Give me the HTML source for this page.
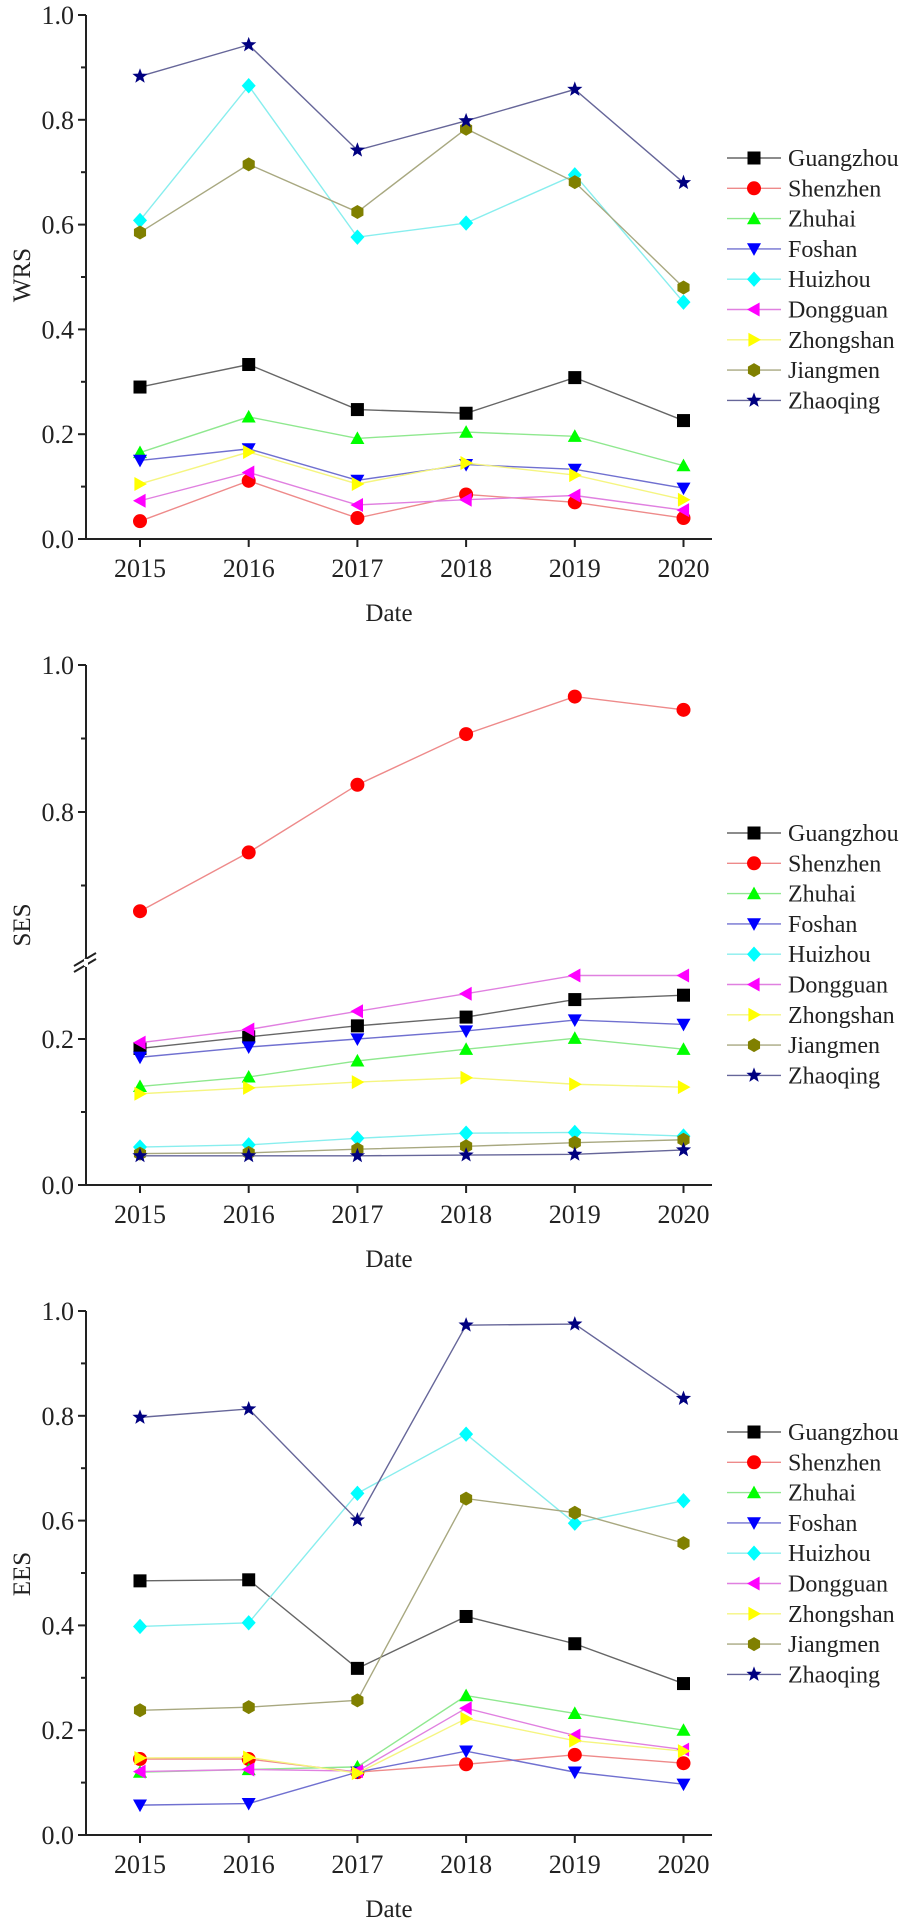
<!DOCTYPE html>
<html><head><meta charset="utf-8"><style>
html,body{margin:0;padding:0;background:#fff}
svg{display:block}
text{font-family:"Liberation Serif",serif;fill:#222}
</style></head><body>
<svg id="c" width="905" height="1922" viewBox="0 0 905 1922" xmlns="http://www.w3.org/2000/svg"></svg>
<script>
const years = ["2015","2016","2017","2018","2019","2020"];
const cities = ["Guangzhou","Shenzhen","Zhuhai","Foshan","Huizhou","Dongguan","Zhongshan","Jiangmen","Zhaoqing"];
const wrsGuangzhou=[0.290,0.333,0.247,0.240,0.308,0.226];
const wrsShenzhen=[0.034,0.111,0.040,0.085,0.070,0.040];
const wrsZhuhai=[0.165,0.233,0.192,0.204,0.196,0.140];
const wrsFoshan=[0.150,0.172,0.112,0.142,0.133,0.097];
const wrsHuizhou=[0.608,0.865,0.576,0.603,0.695,0.452];
const wrsDongguan=[0.073,0.127,0.065,0.075,0.083,0.055];
const wrsZhongshan=[0.105,0.166,0.105,0.145,0.122,0.075];
const wrsJiangmen=[0.585,0.715,0.624,0.783,0.681,0.480];
const wrsZhaoqing=[0.883,0.943,0.742,0.798,0.858,0.680];
const sesGuangzhou=[0.187,0.203,0.218,0.230,0.254,0.260];
const sesShenzhen=[0.665,0.745,0.837,0.906,0.957,0.939];
const sesZhuhai=[0.135,0.148,0.170,0.186,0.201,0.186];
const sesFoshan=[0.175,0.189,0.200,0.211,0.226,0.220];
const sesHuizhou=[0.052,0.055,0.064,0.071,0.072,0.067];
const sesDongguan=[0.195,0.213,0.238,0.262,0.287,0.287];
const sesZhongshan=[0.125,0.133,0.141,0.147,0.138,0.134];
const sesJiangmen=[0.043,0.044,0.049,0.053,0.058,0.062];
const sesZhaoqing=[0.040,0.040,0.040,0.041,0.042,0.048];
const eesGuangzhou=[0.485,0.487,0.318,0.417,0.365,0.289];
const eesShenzhen=[0.145,0.145,0.120,0.135,0.153,0.137];
const eesZhuhai=[0.120,0.125,0.130,0.266,0.232,0.200];
const eesFoshan=[0.057,0.060,0.120,0.160,0.120,0.097];
const eesHuizhou=[0.398,0.405,0.652,0.765,0.595,0.638];
const eesDongguan=[0.121,0.125,0.122,0.242,0.190,0.163];
const eesZhongshan=[0.147,0.148,0.118,0.222,0.180,0.160];
const eesJiangmen=[0.238,0.244,0.257,0.642,0.615,0.557];
const eesZhaoqing=[0.797,0.813,0.601,0.973,0.975,0.833];
const yTicks13=["0.0","0.2","0.4","0.6","0.8","1.0"];
const yTicksUpper=["0.8","1.0"];
const yTicksLower=["0.0","0.2"];

const wrs=[wrsGuangzhou,wrsShenzhen,wrsZhuhai,wrsFoshan,wrsHuizhou,wrsDongguan,wrsZhongshan,wrsJiangmen,wrsZhaoqing];
const ses=[sesGuangzhou,sesShenzhen,sesZhuhai,sesFoshan,sesHuizhou,sesDongguan,sesZhongshan,sesJiangmen,sesZhaoqing];
const ees=[eesGuangzhou,eesShenzhen,eesZhuhai,eesFoshan,eesHuizhou,eesDongguan,eesZhongshan,eesJiangmen,eesZhaoqing];

const mcol=["#000","#f00","#0f0","#00f","#0ff","#f0f","#ff0","#808000","#000080"];
const lcol=["#666","#ee8a8a","#8fe88f","#7070d0","#8ee","#e080e0","#f5f580","#a8a880","#666699"];
const shapes=["square","circle","up","down","diamond","left","right","hex","star"];
const svg=document.getElementById('c');
const NS="http://www.w3.org/2000/svg";
function mk(tag,attrs,parent){const e=document.createElementNS(NS,tag);for(const k in attrs)e.setAttribute(k,attrs[k]);(parent||svg).appendChild(e);return e;}
const X0=140, XS=108.7, AX=86, AXR=712;
function xPos(i){return X0+i*XS;}

function marker(shape,cx,cy,col,g,r){
  r=r||7;let pts;
  if(shape==="square")return mk('rect',{x:cx-r+0.5,y:cy-r+0.5,width:2*r-1,height:2*r-1,fill:col},g);
  if(shape==="circle")return mk('circle',{cx:cx,cy:cy,r:r,fill:col},g);
  if(shape==="up")pts=[[0,-r],[r,r*0.8],[-r,r*0.8]];
  if(shape==="down")pts=[[0,r],[r,-r*0.8],[-r,-r*0.8]];
  if(shape==="left")pts=[[-r,0],[r*0.8,-r],[r*0.8,r]];
  if(shape==="right")pts=[[r,0],[-r*0.8,-r],[-r*0.8,r]];
  if(shape==="diamond")pts=[[0,-r*1.1],[r,0],[0,r*1.1],[-r,0]];
  if(shape==="hex"){pts=[];for(let k=0;k<6;k++){const a=Math.PI/6+k*Math.PI/3;pts.push([r*Math.cos(a),r*Math.sin(a)]);}}
  if(shape==="star"){pts=[];for(let k=0;k<10;k++){const a=-Math.PI/2+k*Math.PI/5;const rr=k%2?r*0.42:r;pts.push([rr*Math.cos(a),rr*Math.sin(a)]);}}
  return mk('polygon',{points:pts.map(p=>(cx+p[0])+','+(cy+p[1])).join(' '),fill:col},g);
}

function label(txt,x,y,anchor,g,extra,fs){const t=mk('text',Object.assign({x:x,y:y,'font-size':fs||24,'text-anchor':anchor},extra||{}),g);t.textContent=txt;return t;}

function drawPanel(name,data,yFn,axisY,topY,title,titleY,legendY,yAxisSegs,tickList,minorList){
  const g=mk('g',{});
  
  
  yAxisSegs.forEach(s=>{const l=mk('line',{x1:AX,y1:s[0],x2:AX,y2:s[1],stroke:'#222','stroke-width':2},g);
    });
  const xa=mk('line',{x1:AX-1,y1:axisY,x2:AXR,y2:axisY,stroke:'#222','stroke-width':2},g);
  
  tickList.forEach(t=>{const y=yFn(parseFloat(t));mk('line',{x1:AX-8,y1:y,x2:AX,y2:y,stroke:'#222','stroke-width':2},g);
    const tl=label(t,AX-12,y+9,'end',g,null,26);});
  minorList.forEach(v=>{const y=yFn(v);mk('line',{x1:AX-5,y1:y,x2:AX,y2:y,stroke:'#222','stroke-width':2},g);});
  years.forEach((yr,i)=>{mk('line',{x1:xPos(i),y1:axisY,x2:xPos(i),y2:axisY+8,stroke:'#222','stroke-width':2},g);
    const tl=label(yr,xPos(i),axisY+38,'middle',g,null,26);});
  const xt=label('Date',(AX+AXR)/2-10,axisY+82,'middle',g,null,25);
  
  const yt=label(title,30,titleY,'middle',g,{transform:'rotate(-90 30 '+titleY+')'},25);
  
  data.forEach((vals,s)=>{
    const sg=mk('g',{},g);
    
    
    mk('polyline',{points:vals.map((v,i)=>xPos(i)+','+yFn(v)).join(' '),fill:'none',stroke:lcol[s],'stroke-width':1.4},sg);
    vals.forEach((v,i)=>{const m=marker(shapes[s],xPos(i),yFn(v),mcol[s],sg,shapes[s]==='star'?8:7);
      });
  });
  const lg=mk('g',{},g);
  
  
  cities.forEach((c,s)=>{const y=legendY+s*30.3;
    const eg=mk('g',{},lg);
    
    
    mk('line',{x1:727,y1:y,x2:781,y2:y,stroke:lcol[s],'stroke-width':1.4},eg);
    marker(shapes[s],754,y,mcol[s],eg,shapes[s]==='star'?8:7);
    label(c,788,y+8,'start',eg);
  });
}
const y1=v=>539-v*524;
drawPanel('wrs',wrs,y1,539,15,'WRS',275,158,[[15,540]],yTicks13,[0.1,0.3,0.5,0.7,0.9]);
const y2=v=> v<=0.45 ? 1185-v*730 : 665+(1.0-v)*735;
drawPanel('ses',ses,y2,1185,665,'SES',925,833,[[665,958],[967,1186]],[...yTicksLower,...yTicksUpper],[0.1,0.7,0.9]);
const bk=mk('g',{});


mk('line',{x1:74,y1:966,x2:96,y2:953,stroke:'#222','stroke-width':2},bk);
mk('line',{x1:74,y1:972,x2:96,y2:959,stroke:'#222','stroke-width':2},bk);
mk('rect',{x:84,y:959,width:4,height:7,fill:'#fff'},bk);
const y3=v=>1835-v*524;
drawPanel('ees',ees,y3,1835,1311,'EES',1574,1432,[[1311,1836]],yTicks13,[0.1,0.3,0.5,0.7,0.9]);
</script>
</body></html>
